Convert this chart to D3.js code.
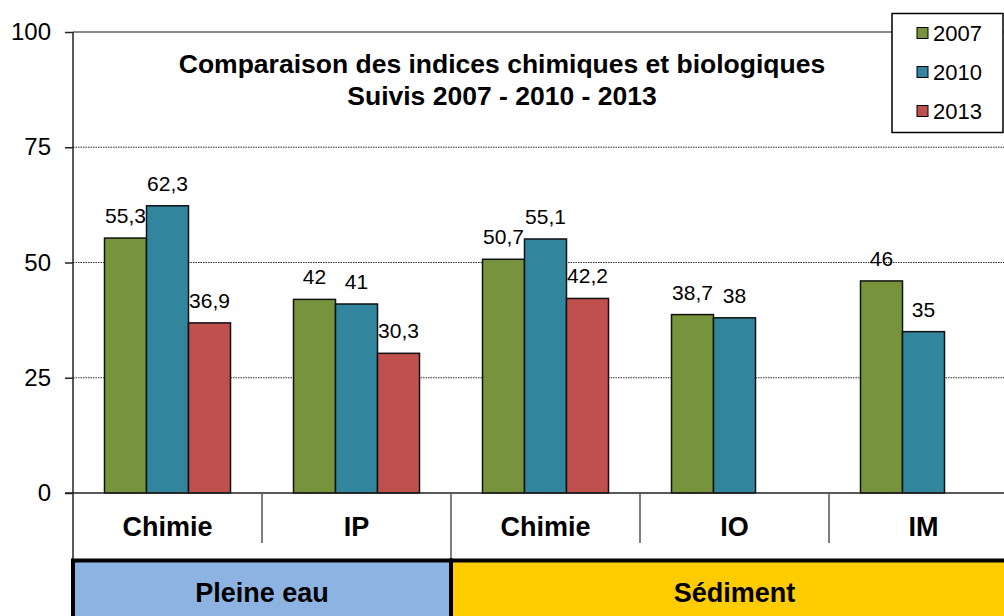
<!DOCTYPE html>
<html>
<head>
<meta charset="utf-8">
<script src="https://cdn.jsdelivr.net/npm/d3@7"></script>
<style>
  html, body { margin: 0; padding: 0; background: #fff; overflow: hidden; }
  svg { display: block; font-family: "Liberation Sans", Arial, sans-serif; }
</style>
</head>
<body>
<svg id="chart"></svg>
<script>
// data
const categories = ["Chimie", "IP", "Chimie", "IO", "IM"];
const years = ["2007", "2010", "2013"];
const values2007 = [55.3, 42, 50.7, 38.7, 46];
const values2010 = [62.3, 41, 55.1, 38, 35];
const values2013 = [36.9, 30.3, 42.2, null, null];
const groupLabels = ["Pleine eau", "Sédiment"];
const groupFirst = [0, 2];
const groupLast = [1, 4];
const yTicks = [0, 25, 50, 75, 100];
const titleLines = ["Comparaison des indices chimiques et biologiques", "Suivis 2007 - 2010 - 2013"];

const seriesValues = [values2007, values2010, values2013];
const colors = ["#77933c", "#31859c", "#c0504d"];
const groupColors = ["#8db3e2", "#ffcc00"];

// constants
const width = 1004;
const height = 616;
const plot = { left: 73, top: 32, bottom: 493, right: 1018 };

const svg = d3.select("svg#chart").attr("width", width).attr("height", height);

const x0 = d3.scaleBand()
  .domain(d3.range(categories.length))
  .range([plot.left, plot.right])
  .padding(0);

const x1 = d3.scaleBand()
  .domain(years)
  .range([0, x0.bandwidth()])
  .paddingInner(0)
  .paddingOuter(0.75);

const y = d3.scaleLinear().domain([0, 100]).range([plot.bottom, plot.top]);

const fmt = d => String(d).replace(".", ",");

// grid lines (dotted) and top border
svg.append("g").selectAll("line")
  .data(yTicks.filter(t => t > 0 && t < 100))
  .enter().append("line")
  .attr("x1", plot.left).attr("x2", plot.right)
  .attr("y1", d => y(d)).attr("y2", d => y(d))
  .attr("stroke", "#333").attr("stroke-width", 1)
  .attr("stroke-dasharray", "1.5,1");

svg.append("line")
  .attr("x1", plot.left).attr("x2", plot.right)
  .attr("y1", y(100)).attr("y2", y(100))
  .attr("stroke", "#8c8c8c").attr("stroke-width", 2);

// y axis
const yAxis = d3.axisLeft(y).tickValues(yTicks).tickSize(8).tickPadding(14);
const yg = svg.append("g").attr("transform", "translate(" + plot.left + ",0)").call(yAxis);
yg.select(".domain").remove();
yg.selectAll(".tick line").attr("stroke", "#222").attr("stroke-width", 1.5);
yg.selectAll(".tick text")
  .attr("font-family", "Liberation Sans, Arial, sans-serif")
  .attr("font-size", 24).attr("fill", "#000");

// bars
const groupsSel = svg.append("g").selectAll("g")
  .data(categories.map((c, i) => i))
  .enter().append("g")
  .attr("transform", i => "translate(" + x0(i) + ",0)");

const barData = i => years.map((yr, s) => ({ year: yr, s: s, v: seriesValues[s][i] })).filter(d => d.v != null);

groupsSel.selectAll("rect")
  .data(barData)
  .enter().append("rect")
  .attr("x", d => x1(d.year))
  .attr("y", d => y(d.v))
  .attr("width", x1.bandwidth())
  .attr("height", d => y(0) - y(d.v))
  .attr("fill", d => colors[d.s])
  .attr("stroke", "#111").attr("stroke-width", 1.5);

groupsSel.selectAll("text")
  .data(barData)
  .enter().append("text")
  .attr("x", d => x1(d.year) + x1.bandwidth() / 2)
  .attr("y", d => y(d.v) - 15)
  .attr("text-anchor", "middle")
  .attr("font-size", 21)
  .attr("fill", "#000")
  .text(d => fmt(d.v));

// y axis line, x axis line
svg.append("line")
  .attr("x1", plot.left).attr("x2", plot.left)
  .attr("y1", plot.top).attr("y2", 560)
  .attr("stroke", "#222").attr("stroke-width", 1.5);

svg.append("line")
  .attr("x1", plot.left - 8).attr("x2", plot.right)
  .attr("y1", plot.bottom).attr("y2", plot.bottom)
  .attr("stroke", "#222").attr("stroke-width", 1.5);

// category separators
svg.append("g").selectAll("line")
  .data(d3.range(1, categories.length))
  .enter().append("line")
  .attr("x1", i => x0(i)).attr("x2", i => x0(i))
  .attr("y1", plot.bottom)
  .attr("y2", i => groupFirst.includes(i) ? 560 : 543)
  .attr("stroke", "#555").attr("stroke-width", 1.5);

// category labels
svg.append("g").selectAll("text")
  .data(categories)
  .enter().append("text")
  .attr("x", (d, i) => x0(i) + x0.bandwidth() / 2)
  .attr("y", 536)
  .attr("text-anchor", "middle")
  .attr("font-size", 27).attr("font-weight", "bold")
  .text(d => d);

// group boxes
const gb = svg.append("g").selectAll("g")
  .data(groupLabels)
  .enter().append("g");

gb.append("rect")
  .attr("x", (d, i) => x0(groupFirst[i]))
  .attr("y", 560.5)
  .attr("width", (d, i) => x0(groupLast[i]) + x0.bandwidth() - x0(groupFirst[i]))
  .attr("height", 80)
  .attr("fill", (d, i) => groupColors[i])
  .attr("stroke", "#000").attr("stroke-width", 4);

gb.append("text")
  .attr("x", (d, i) => (x0(groupFirst[i]) + x0(groupLast[i]) + x0.bandwidth()) / 2)
  .attr("y", 602)
  .attr("text-anchor", "middle")
  .attr("font-size", 27).attr("font-weight", "bold")
  .text(d => d);

// title
svg.append("g").selectAll("text")
  .data(titleLines)
  .enter().append("text")
  .attr("x", 502)
  .attr("y", (d, i) => 73 + i * 32)
  .attr("text-anchor", "middle")
  .attr("font-size", 26.5).attr("font-weight", "bold")
  .text(d => d);

// legend
const legend = svg.append("g");
legend.append("rect")
  .attr("x", 892).attr("y", 13.5)
  .attr("width", 111).attr("height", 119)
  .attr("fill", "#fff").attr("stroke", "#000").attr("stroke-width", 1.5);

const li = legend.selectAll("g.item")
  .data(years)
  .enter().append("g").attr("class", "item")
  .attr("transform", (d, i) => "translate(917," + (33 + i * 39) + ")");

li.append("rect")
  .attr("x", 0).attr("y", -5.5)
  .attr("width", 11).attr("height", 11)
  .attr("fill", (d, i) => colors[i])
  .attr("stroke", "#000").attr("stroke-width", 1);

li.append("text")
  .attr("x", 16).attr("y", 8)
  .attr("font-size", 22)
  .text(d => d);
</script>
</body>
</html>
